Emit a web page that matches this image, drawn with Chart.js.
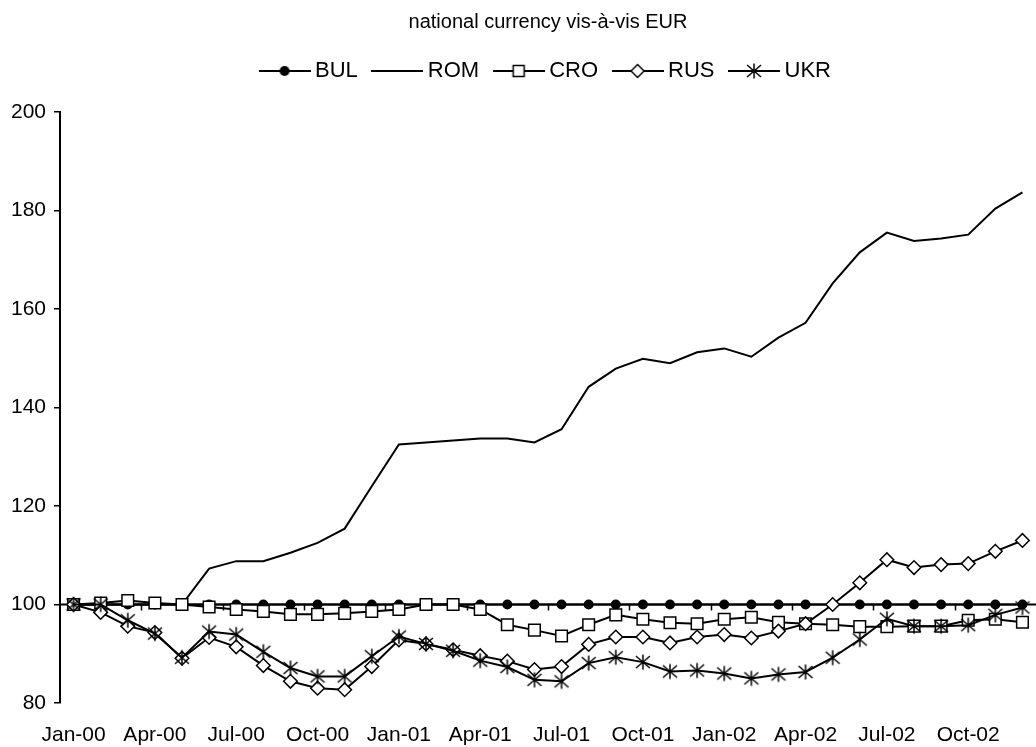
<!DOCTYPE html>
<html>
<head>
<meta charset="utf-8">
<title>national currency vis-à-vis EUR</title>
<script src="https://cdn.jsdelivr.net/npm/chart.js@4.4.1/dist/chart.umd.min.js"></script>
<style>
  html, body { margin: 0; padding: 0; background: #fff; }
  #caixa { width: 1036px; height: 747px; }
</style>
</head>
<body>
<div id="caixa"><canvas id="grafico"></canvas></div>
<script>
// Meses (categorias do eixo x)
var meses = [
  "Jan-00", "Feb-00", "Mar-00", "Apr-00", "May-00", "Jun-00", "Jul-00", "Aug-00", "Sep-00", "Oct-00", "Nov-00", "Dec-00",
  "Jan-01", "Feb-01", "Mar-01", "Apr-01", "May-01", "Jun-01", "Jul-01", "Aug-01", "Sep-01", "Oct-01", "Nov-01", "Dec-01",
  "Jan-02", "Feb-02", "Mar-02", "Apr-02", "May-02", "Jun-02", "Jul-02", "Aug-02", "Sep-02", "Oct-02", "Nov-02", "Dec-02"
];

// Valores de cada série
var bul = [100, 100, 100, 100, 100, 100, 100, 100, 100, 100, 100, 100,
  100, 100, 100, 100, 100, 100, 100, 100, 100, 100, 100, 100,
  100, 100, 100, 100, 100, 100, 100, 100, 100, 100, 100, 100];
var rom = [100, 100, 100, 100, 100, 107.3, 108.8, 108.8, 110.5, 112.5, 115.4, 124,
  132.5, 132.9, 133.3, 133.7, 133.7, 132.9, 135.6, 144.2, 147.9, 149.9, 149.0, 151.2,
  152.0, 150.3, 154.2, 157.2, 165.2, 171.5, 175.5, 173.8, 174.3, 175.1, 180.4, 183.7];
var cro = [100, 100.3, 100.8, 100.3, 100, 99.5, 99.0, 98.6, 98.0, 98.0, 98.2, 98.6,
  99.0, 100, 100, 99.0, 95.9, 94.8, 93.6, 95.9, 97.9, 97.0, 96.3, 96.1,
  97.0, 97.4, 96.4, 96.1, 95.9, 95.5, 95.5, 95.6, 95.6, 96.8, 97.0, 96.4];
var rus = [100, 98.4, 95.6, 94.3, 89.1, 93.3, 91.4, 87.6, 84.4, 83.0, 82.7, 87.4,
  92.8, 92.0, 90.8, 89.6, 88.5, 86.8, 87.4, 91.9, 93.4, 93.4, 92.2, 93.4,
  93.9, 93.2, 94.6, 96.1, 100, 104.4, 109.1, 107.5, 108.1, 108.3, 110.8, 113.0];
var ukr = [100, 100, 96.8, 94.1, 89.2, 94.5, 93.9, 90.4, 87.1, 85.4, 85.4, 89.5,
  93.5, 92.0, 90.6, 88.6, 87.3, 84.7, 84.4, 88.1, 89.3, 88.3, 86.4, 86.6,
  86.0, 85.0, 85.8, 86.3, 89.2, 92.9, 97.1, 95.6, 95.6, 95.8, 97.9, 99.4];

// Eixo y
var yMin = 80;
var yMax = 200;
var yPasso = 20;

Chart.defaults.font.family = "'Liberation Sans', Arial, sans-serif";
Chart.defaults.color = "#000";

// Desenha um marcador no contexto dado
function desenharMarcador(ctx, tipo, x, y) {
  ctx.strokeStyle = "#000";
  ctx.lineWidth = 1.5;
  if (tipo === "circulo") {
    ctx.fillStyle = "#000";
    ctx.beginPath();
    ctx.arc(x, y, 5, 0, Math.PI * 2);
    ctx.fill();
  } else if (tipo === "quadrado") {
    ctx.fillStyle = "#fff";
    ctx.fillRect(x - 5.5, y - 5.5, 11, 11);
    ctx.strokeRect(x - 5.5, y - 5.5, 11, 11);
  } else if (tipo === "losango") {
    ctx.fillStyle = "#fff";
    ctx.beginPath();
    ctx.moveTo(x - 6.5, y);
    ctx.lineTo(x, y - 6.5);
    ctx.lineTo(x + 6.5, y);
    ctx.lineTo(x, y + 6.5);
    ctx.closePath();
    ctx.fill();
    ctx.stroke();
  } else if (tipo === "asterisco") {
    ctx.beginPath();
    ctx.moveTo(x, y - 7.5);
    ctx.lineTo(x, y + 7.5);
    ctx.moveTo(x - 7, y - 6);
    ctx.lineTo(x + 7, y + 6);
    ctx.moveTo(x + 7, y - 6);
    ctx.lineTo(x - 7, y + 6);
    ctx.stroke();
  }
}

// Imagem do asterisco usada nos pontos da série UKR
function criarAsterisco() {
  var c = document.createElement("canvas");
  c.width = 18;
  c.height = 18;
  desenharMarcador(c.getContext("2d"), "asterisco", 9, 9);
  return c;
}

// Ícone da legenda: linha com o marcador no meio
function criarIcone(tipo) {
  var c = document.createElement("canvas");
  c.width = 52;
  c.height = 18;
  var ctx = c.getContext("2d");
  ctx.strokeStyle = "#000";
  ctx.lineWidth = 2;
  ctx.beginPath();
  ctx.moveTo(0, 9);
  ctx.lineTo(52, 9);
  ctx.stroke();
  desenharMarcador(ctx, tipo, 26, 9);
  return c;
}

var icones = [criarIcone("circulo"), criarIcone("nenhum"), criarIcone("quadrado"), criarIcone("losango"), criarIcone("asterisco")];

// Eixo horizontal cruzando em 100, com marcas a cada 3 meses
var eixoNoCem = {
  id: "eixoNoCem",
  beforeDatasetsDraw: function (chart) {
    var ctx = chart.ctx;
    var x = chart.scales.x;
    var y = chart.scales.y;
    var yCem = y.getPixelForValue(100);
    var meio = (x.getPixelForValue(1) - x.getPixelForValue(0)) / 2;
    ctx.save();
    ctx.strokeStyle = "#000";
    ctx.lineWidth = 2;
    ctx.beginPath();
    ctx.moveTo(chart.chartArea.left, yCem);
    ctx.lineTo(chart.chartArea.right, yCem);
    ctx.stroke();
    ctx.lineWidth = 1.5;
    for (var i = 3; i < meses.length; i += 3) {
      var px = Math.round(x.getPixelForValue(i) - meio) + 0.5;
      ctx.beginPath();
      ctx.moveTo(px, yCem);
      ctx.lineTo(px, yCem + 6);
      ctx.stroke();
    }
    ctx.restore();
  }
};

var ctx = document.getElementById("grafico").getContext("2d");
var grafico = new Chart(ctx, {
  type: "line",
  data: {
    labels: meses,
    datasets: [
      { label: "BUL", data: bul, order: 5, borderColor: "#000", borderWidth: 2,
        pointStyle: "circle", pointRadius: 5, pointBackgroundColor: "#000", pointBorderColor: "#000", pointBorderWidth: 0 },
      { label: "ROM", data: rom, order: 4, borderColor: "#000", borderWidth: 2, pointRadius: 0 },
      { label: "CRO", data: cro, order: 3, borderColor: "#000", borderWidth: 2,
        pointStyle: "rect", pointRadius: 8.2, pointBackgroundColor: "#fff", pointBorderColor: "#000", pointBorderWidth: 1.5 },
      { label: "RUS", data: rus, order: 2, borderColor: "#000", borderWidth: 2,
        pointStyle: "rectRot", pointRadius: 6.8, pointBackgroundColor: "#fff", pointBorderColor: "#000", pointBorderWidth: 1.5 },
      { label: "UKR", data: ukr, order: 1, borderColor: "#000", borderWidth: 2,
        pointStyle: criarAsterisco(), pointRadius: 8 }
    ]
  },
  options: {
    responsive: true,
    maintainAspectRatio: false,
    animation: false,
    layout: { autoPadding: false, padding: { left: 0, right: -4, top: 0, bottom: 0 } },
    plugins: {
      tooltip: { enabled: false },
      title: {
        display: true,
        text: "national currency vis-à-vis EUR",
        fullSize: false,
        font: { size: 20, weight: "normal" },
        padding: { top: 10, bottom: 6 }
      },
      legend: {
        display: true,
        position: "top",
        fullSize: false,
        labels: {
          font: { size: 22 },
          usePointStyle: true,
          pointStyleWidth: 39,
          padding: 20,
          generateLabels: function (chart) {
            return chart.data.datasets.map(function (ds, i) {
              return {
                text: ds.label,
                pointStyle: icones[i],
                datasetIndex: i,
                hidden: false,
                lineWidth: 0,
                strokeStyle: "rgba(0,0,0,0)",
                fillStyle: "rgba(0,0,0,0)",
                fontColor: "#000"
              };
            });
          }
        }
      },
      // espaço vazio entre a legenda e a área do gráfico
      subtitle: {
        display: true,
        text: "",
        weight: 500,
        fullSize: false,
        font: { size: 20, lineHeight: 1 },
        padding: 0
      }
    },
    scales: {
      x: {
        type: "category",
        offset: true,
        grid: { display: false, drawTicks: false },
        border: { display: false },
        ticks: {
          autoSkip: false,
          maxRotation: 0,
          padding: 20,
          font: { size: 21 },
          callback: function (valor, indice) {
            return indice % 3 === 0 ? meses[indice] : "";
          }
        },
        afterFit: function (escala) {
          escala.height = 44;
          escala.paddingLeft = 0;
          escala.paddingRight = -4;
        }
      },
      y: {
        min: yMin,
        max: yMax,
        ticks: { stepSize: yPasso, padding: 8, font: { size: 21 } },
        grid: { drawOnChartArea: false, drawTicks: true, tickLength: 6, color: "#000", lineWidth: 1.5 },
        border: { display: true, color: "#000", width: 2 },
        afterFit: function (escala) { escala.width = 60; }
      }
    }
  },
  plugins: [eixoNoCem]
});
</script>
</body>
</html>
